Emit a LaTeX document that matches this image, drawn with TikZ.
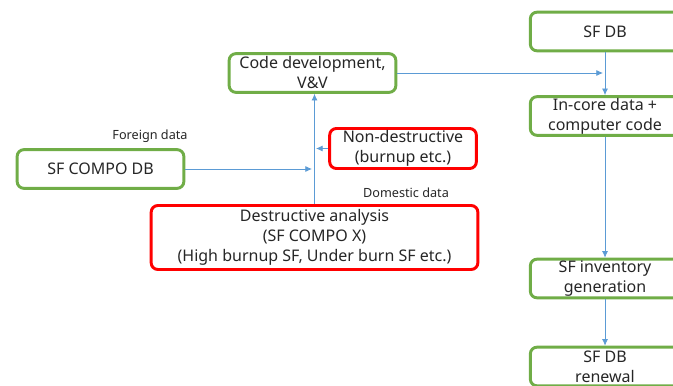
\documentclass[tikz,border=0pt]{standalone}
\usepackage{fontspec}
\setmainfont{Noto Sans}
\usetikzlibrary{arrows.meta}
\definecolor{boxgreen}{RGB}{112,173,71}
\definecolor{boxred}{RGB}{255,0,0}
\definecolor{flow}{RGB}{91,155,213}
\tikzset{
  every node/.style={
    text=black!85,
    font=\fontsize{12}{15}\selectfont
  },
  greenbox/.style={draw=boxgreen, line width=2.2pt, rounded corners=5pt,
    align=center, inner sep=0pt, minimum width=125pt, minimum height=29pt},
  redbox/.style={greenbox, draw=boxred},
  flowline/.style={draw=flow, line width=0.6pt, -{Latex[length=5pt,width=4.5pt]}},
  note/.style={font=\fontsize{9.5}{11}\selectfont}
}

\begin{document}
\begin{tikzpicture}[x=0.75pt,y=-0.75pt]
    %\draw[gray, very thin] (0,0) grid[step=50] (673,385);
    \useasboundingbox (0,0) rectangle (673,385);
    \begin{scope}
    \clip (0,0) rectangle (673,385);
    % left part
    \node[greenbox] (code) at (312.5,73) {Code development,\\V\&V};
    \node[greenbox] (compo) at (100.5,169) {SF COMPO DB};
    \node[redbox, minimum width=110pt, minimum height=30pt] (nondes) at (403,148.5) {Non-destructive\\(burnup etc.)};
    \node[redbox, minimum width=245pt, minimum height=48pt] (destr) at (314.5,237.5)
      {Destructive analysis\\(SF COMPO X)\\(High burnup SF, Under burn SF etc.)};
    \node[note] (foreign) at (150,136) {Foreign data};
    \node[note] (domestic) at (406,193) {Domestic data};
    % right column
    \node[greenbox, minimum width=112pt] (sfdb) at (605,31.5) {SF DB};
    \node[greenbox, minimum width=112pt] (incore) at (605,116) {In-core data +\\computer code};
    \node[greenbox, minimum width=112pt] (invent) at (605,278.5) {SF inventory\\generation};
    \node[greenbox, minimum width=112pt] (renew) at (605,366.5) {SF DB\\renewal};
    \end{scope}
    % connectors
    \coordinate (jfor) at (312,169);
    \coordinate (jdom) at (316,148.5);
    \coordinate (jcode) at (603,73);
    \draw[flowline] (destr.north) -- (destr.north |- code.south);
    \draw[flowline] (compo.east) -- (jfor);
    \draw[flowline] (nondes.west) -- (jdom);
    \draw[flowline] (code.east |- jcode) -- (jcode);
    \draw[flowline] (sfdb.south) -- (incore.north);
    \draw[flowline] (incore.south) -- (invent.north);
    \draw[flowline] (invent.south) -- (renew.north);
\end{tikzpicture}
\end{document}
